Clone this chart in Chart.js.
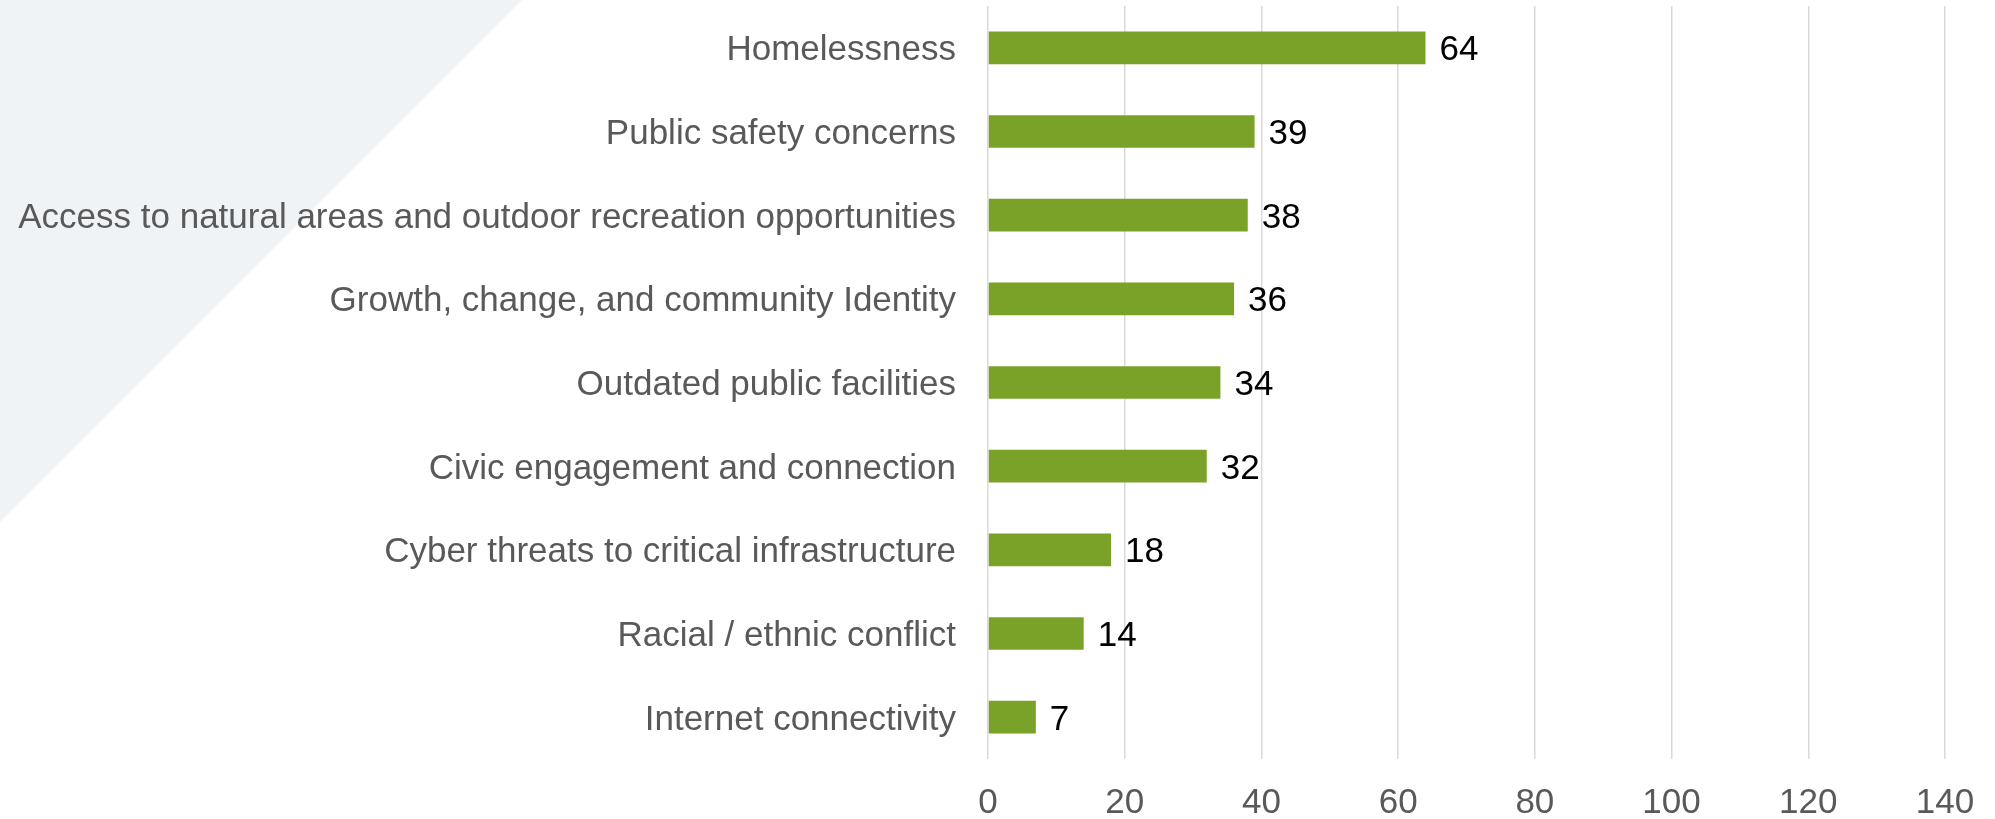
<!DOCTYPE html>
<html lang="en">
<head>
  <meta charset="UTF-8">
  <title>Community Concerns</title>
  <script src="https://cdn.jsdelivr.net/npm/chart.js"></script>
  <style>
    body {
      margin: 0;
      background: #fff;
    }
    #grafico {
      display: block;
    }
  </style>
</head>
<body>

<canvas id="grafico" width="1995" height="819"></canvas>

<script>
  // categories, top to bottom
  var categorias = [
    'Homelessness',
    'Public safety concerns',
    'Access to natural areas and outdoor recreation opportunities',
    'Growth, change, and community Identity',
    'Outdated public facilities',
    'Civic engagement and connection',
    'Cyber threats to critical infrastructure',
    'Racial / ethnic conflict',
    'Internet connectivity'
  ];
  var valores = [64, 39, 38, 36, 34, 32, 18, 14, 7];
  var ejeMin = 0;
  var ejeMax = 140;
  var ejePaso = 20;

  var fuente = '"Liberation Sans", Arial, sans-serif';

  // light diagonal shape behind the chart
  var fondo = {
    id: 'fondo',
    beforeDraw: function (chart) {
      var c = chart.ctx;
      c.save();
      c.fillStyle = '#f0f3f6';
      c.beginPath();
      c.moveTo(0, 0);
      c.lineTo(522, 0);
      c.lineTo(0, 522);
      c.closePath();
      c.fill();
      c.restore();
    }
  };

  // value printed after the end of each bar
  var etiquetas = {
    id: 'etiquetas',
    afterDatasetsDraw: function (chart) {
      var c = chart.ctx;
      var meta = chart.getDatasetMeta(0);
      c.save();
      c.fillStyle = '#000';
      c.font = '35px ' + fuente;
      c.textAlign = 'left';
      c.textBaseline = 'middle';
      meta.data.forEach(function (bar, i) {
        c.fillText(String(valores[i]), bar.x + 14, bar.y + 3);
      });
      c.restore();
    }
  };

  var ctx = document.getElementById('grafico').getContext('2d');

  new Chart(ctx, {
    type: 'bar',
    data: {
      labels: categorias,
      datasets: [{
        data: valores,
        backgroundColor: '#7aa228',
        borderWidth: 0,
        categoryPercentage: 1,
        barPercentage: 0.39
      }]
    },
    options: {
      indexAxis: 'y',
      responsive: false,
      animation: false,
      layout: {
        padding: { top: 6, right: 50, left: 0, bottom: 0 }
      },
      plugins: {
        legend: { display: false },
        tooltip: { enabled: false }
      },
      scales: {
        x: {
          min: ejeMin,
          max: ejeMax,
          ticks: {
            stepSize: ejePaso,
            padding: 23,
            color: '#595959',
            font: { family: fuente, size: 35 }
          },
          grid: {
            color: '#d9d9d9',
            lineWidth: 1.5,
            drawTicks: false
          },
          border: { display: false },
          afterFit: function (scale) {
            scale.height = 60;
            scale.paddingLeft = 0;
            scale.paddingRight = 0;
          }
        },
        y: {
          ticks: {
            padding: 32,
            labelOffset: 3,
            color: '#595959',
            font: { family: fuente, size: 35 }
          },
          grid: { display: false, drawTicks: false },
          border: { display: false },
          afterFit: function (scale) {
            scale.width = 988;
            scale.paddingTop = 0;
            scale.paddingBottom = 0;
          }
        }
      }
    },
    plugins: [fondo, etiquetas]
  });
</script>

</body>
</html>
